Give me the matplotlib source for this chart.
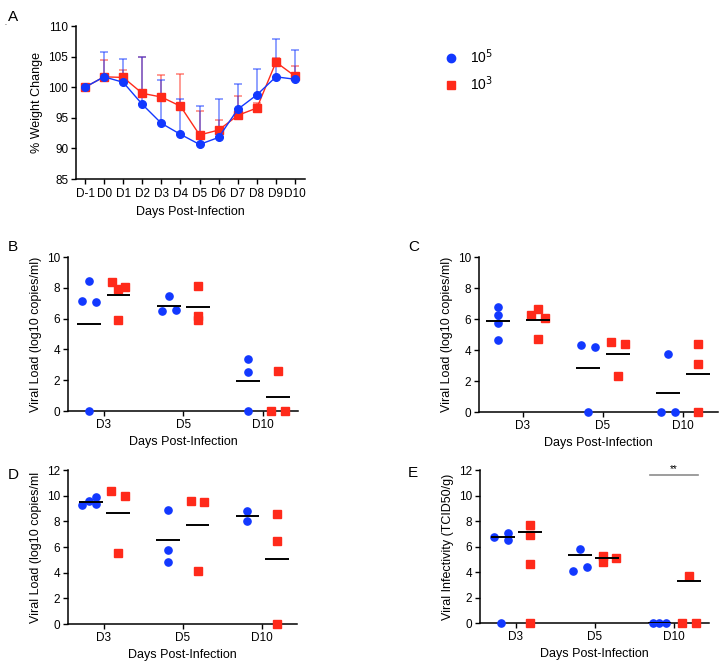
import matplotlib

matplotlib.use("Agg")
import matplotlib.pyplot as plt
import numpy as np
from matplotlib.lines import Line2D

plt.rcParams["font.family"] = ["Liberation Sans", "DejaVu Sans"]
plt.rcParams["font.size"] = 8

BLUE = "#1238ff"
RED = "#ff2a1a"

# --- panel A: weight change ---
days_a = ["D-1", "D0", "D1", "D2", "D3", "D4", "D5", "D6", "D7", "D8", "D9", "D10"]
w_hi = [100.0, 101.7, 100.8, 97.2, 94.1, 92.3, 90.65, 91.8, 96.4, 98.75, 101.7, 101.3]
w_hi_err = [0.0, 4.0, 3.8, 7.8, 7.1, 5.7, 6.25, 6.3, 4.2, 4.25, 6.1, 4.8]
w_lo = [100.0, 101.7, 101.6, 99.0, 98.4, 96.9, 92.2, 93.0, 95.4, 96.6, 104.1, 101.8]
w_lo_err = [0.0, 2.7, 1.2, 5.9, 3.6, 5.2, 3.9, 1.6, 3.1, 0.9, 0.6, 1.6]

# --- panels B-E: per-animal values at D3, D5, D10 ---
days = ["D3", "D5", "D10"]

b_hi = [[7.16, 8.42, 7.07, 0.0], [6.51, 7.44, 6.57], [3.41, 2.54, 0.0]]
b_lo = [[8.35, 7.94, 8.03, 5.92], [8.13, 6.2, 5.92], [2.62, 0.0, 0.0]]
b_hi_line = [5.66, 6.83, 1.97]
b_lo_line = [7.55, 6.75, 0.89]

c_hi = [[6.76, 6.24, 5.72, 4.62], [4.32, 4.17, 0.0], [3.76, 0.0, 0.0]]
c_lo = [[6.24, 6.65, 6.07, 4.69], [4.51, 4.38, 2.31], [4.38, 3.07, 0.0]]
c_hi_line = [5.85, 2.85, 1.23]
c_lo_line = [5.92, 3.76, 2.46]

d_hi = [[9.24, 9.58, 9.9, 9.35], [8.9, 5.76, 4.82], [8.83, 8.05]]
d_lo = [[10.39, 9.97, 5.57], [9.58, 9.48, 4.14], [8.54, 6.46, 0.0]]
d_hi_line = [9.5, 6.51, 8.44]
d_lo_line = [8.67, 7.73, 5.03]

e_hi = [[6.73, 7.09, 6.54, 0.0], [5.79, 4.06, 4.4], [0.0, 0.0, 0.0]]
e_lo = [[7.67, 6.94, 4.66, 0.0], [5.29, 4.79, 5.13], [0.0, 0.0, 3.72]]
e_hi_line = [6.73, 5.31, 0.0]
e_lo_line = [7.17, 5.1, 3.27]

# scatter slots (horizontal placement of points inside a group, layout only)
b_slots = ([[-1, 0, 1, 0], [-1, 0, 1], [0, 0, 0]], [[-1, 0, 1, 0], [0, 0, 0], [0, -1, 1]])
c_slots = ([[-1.4] * 4, [-1, 1, 0], [0, -1, 1]], [[-1, 0, 1, 0], [-1, 1, 0], [0, 0, 0]])
d_slots = ([[-1, 0, 1, 1], [0, 0, 0], [0, 0]], [[-1, 1, 0], [-1, 1, 0], [0, 0, 0]])
e_slots = ([[-1, 1, 1, 0], [0, -1, 1], [-1, 0, 1]], [[0, 0, 0, 0], [-1, -1, 1], [-1, 1, 0]])

OFF = 0.185   # group offset from tick
STEP = 0.087  # spacing between side-by-side points
HALF = 0.15   # half width of mean line


def style_axes(ax):
    for s in ("top", "right"):
        ax.spines[s].set_visible(False)
    for s in ("left", "bottom"):
        ax.spines[s].set_linewidth(1.1)
    ax.tick_params(direction="out", length=3.5, width=1.0, labelsize=8.5, pad=2)


def dot_panel(ax, hi, lo, hi_line, lo_line, slots, ylabel, ymax):
    for g, (vals, lines, sl, sign, mk, col) in enumerate(
        [(hi, hi_line, slots[0], -1, "o", BLUE), (lo, lo_line, slots[1], 1, "s", RED)]
    ):
        for i in range(len(days)):
            c = i + sign * OFF
            xs = c + np.asarray(sl[i]) * STEP
            ax.plot(xs, vals[i], ls="none", marker=mk, ms=5.2, mfc=col, mec=col,
                    clip_on=False, zorder=3)
            lc = c + np.mean(sl[i]) * STEP
            ax.plot([lc - HALF, lc + HALF], [lines[i]] * 2, color="black", lw=1.4,
                    zorder=4, solid_capstyle="butt")
    ax.set_xlim(-0.45, 2.44)
    ax.set_ylim(0, ymax)
    ax.set_yticks(np.arange(0, ymax + 1, 2))
    ax.set_xticks(range(len(days)))
    ax.set_xticklabels(days)
    ax.set_xlabel("Days Post-Infection", fontsize=9)
    ax.set_ylabel(ylabel, fontsize=9)
    style_axes(ax)


fig = plt.figure(figsize=(7.2, 6.64), dpi=100)

# A
axA = fig.add_axes([0.1056, 0.7304, 0.318, 0.2304])
xa = np.arange(len(days_a))
for vals, err, mk, col in [(w_lo, w_lo_err, "s", RED), (w_hi, w_hi_err, "o", BLUE)]:
    axA.errorbar(xa, vals, yerr=[np.zeros(len(err)), err], fmt="none", ecolor=col,
                 alpha=0.55, elinewidth=1.2, capsize=3, capthick=1.2, zorder=2)
    axA.plot(xa, vals, color=col, lw=1.0, marker=mk, ms=5.5, mfc=col, mec=col, zorder=3)
axA.set_xlim(-0.47, 11.52)
axA.set_ylim(85, 110)
axA.set_yticks(range(85, 111, 5))
axA.set_xticks(xa)
axA.set_xticklabels(days_a)
axA.set_xlabel("Days Post-Infection", fontsize=9)
axA.set_ylabel("% Weight Change", fontsize=9)
style_axes(axA)
axA.tick_params(axis="x", pad=3)

handles = [Line2D([], [], ls="none", marker="o", ms=6, mfc=BLUE, mec=BLUE),
           Line2D([], [], ls="none", marker="s", ms=5.5, mfc=RED, mec=RED)]
fig.legend(handles, ["10$^5$", "10$^3$"], loc="upper left", bbox_to_anchor=(0.599, 0.947),
           frameon=False, fontsize=10, handletextpad=0.9, labelspacing=0.55,
           handlelength=1.0)

# B-E
axB = fig.add_axes([0.0944, 0.381, 0.3194, 0.2319])
dot_panel(axB, b_hi, b_lo, b_hi_line, b_lo_line, b_slots, "Viral Load (log10 copies/ml)", 10)
axC = fig.add_axes([0.6653, 0.3795, 0.332, 0.2334])
dot_panel(axC, c_hi, c_lo, c_hi_line, c_lo_line, c_slots, "Viral Load (log10 copies/ml)", 10)
axC.set_xlim(-0.55, 2.44)
axD = fig.add_axes([0.0944, 0.0602, 0.318, 0.2319])
dot_panel(axD, d_hi, d_lo, d_hi_line, d_lo_line, d_slots, "Viral Load (log10 copies/ml", 12)
axE = fig.add_axes([0.6667, 0.0617, 0.318, 0.2304])
dot_panel(axE, e_hi, e_lo, e_hi_line, e_lo_line, e_slots, "Viral Infectivity (TCID50/g)", 12)

# significance bar at D10 in E
axE.plot([2 - 0.3, 2 + 0.3], [11.6, 11.6], color="#8c8c8c", lw=1.2, clip_on=False)
axE.text(2, 11.72, "**", ha="center", va="bottom", fontsize=7)

for lab, x, y in [("A", 0.011, 0.985), ("B", 0.011, 0.638), ("C", 0.567, 0.638),
                  ("D", 0.011, 0.295), ("E", 0.567, 0.298)]:
    fig.text(x, y, lab, fontsize=11, va="top", ha="left")
fig.text(0.006, 0.963, ".", fontsize=5)

fig.savefig("out.png", dpi=100)
